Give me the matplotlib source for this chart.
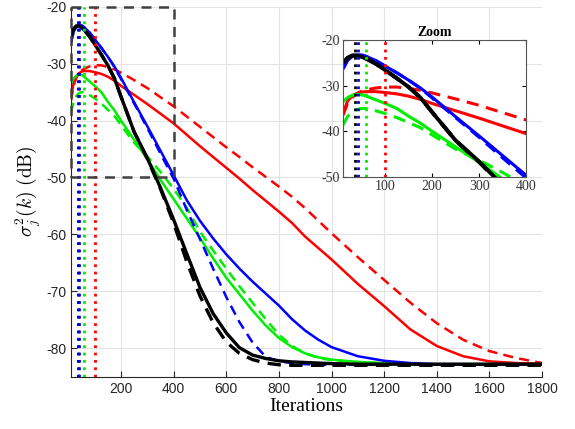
import numpy as np
import matplotlib
matplotlib.use('Agg')
import matplotlib.pyplot as plt

plt.rcParams['axes.unicode_minus'] = False
plt.rcParams['mathtext.fontset'] = 'cm'

# iteration grid shared by every curve
iters = [10, 20, 30, 40, 50, 60, 80, 100, 125, 150, 175, 200, 250, 300, 350,
         400, 450, 500, 550, 600, 650, 700, 750, 800, 850, 900, 950, 1000,
         1100, 1200, 1300, 1400, 1500, 1600, 1700, 1800]

blue_solid = [-26.3, -24.4, -23.6, -23.3, -23.3, -23.6, -24.5, -25.7, -27.2, -28.8,
              -30.5, -32.5, -36.8, -41.0, -45.3, -49.6, -54.0, -57.6, -60.7, -63.5,
              -66.0, -68.3, -70.4, -72.5, -74.9, -76.9, -78.5, -79.8, -81.4, -82.2,
              -82.6, -82.8, -82.8, -82.8, -82.8, -82.8]
blue_dash = [-26.3, -24.4, -23.6, -23.3, -23.3, -23.6, -24.5, -25.7, -27.2, -28.8,
             -30.6, -32.7, -37.0, -41.3, -45.8, -50.2, -55.7, -60.8, -66.0, -71.0,
             -75.4, -79.0, -81.5, -82.3, -82.6, -82.8, -82.9, -82.9, -82.9, -82.9,
             -82.9, -82.9, -82.9, -82.9, -82.9, -82.9]
black_solid = [-25.0, -23.9, -23.4, -23.4, -23.7, -24.1, -25.2, -26.6, -28.4, -30.3,
               -32.6, -35.8, -42.0, -46.6, -51.8, -57.4, -63.4, -69.3, -73.9, -77.3,
               -79.9, -81.2, -81.8, -82.2, -82.4, -82.5, -82.6, -82.7, -82.8, -82.8,
               -82.8, -82.8, -82.8, -82.8, -82.8, -82.8]
black_dash = [-25.0, -23.9, -23.4, -23.4, -23.7, -24.1, -25.2, -26.6, -28.4, -30.3,
              -32.6, -35.8, -42.0, -46.7, -52.0, -58.0, -64.8, -70.8, -75.5, -78.9,
              -80.9, -82.0, -82.6, -82.9, -83.0, -83.0, -83.0, -83.0, -83.0, -83.0,
              -83.0, -83.0, -83.0, -83.0, -83.0, -83.0]
green_solid = [-33.5, -32.6, -32.1, -31.9, -32.0, -32.3, -33.1, -33.9, -35.0, -36.7,
               -38.2, -40.0, -43.4, -46.8, -50.4, -53.8, -57.2, -60.6, -64.2, -67.6,
               -70.5, -73.4, -76.0, -78.2, -79.8, -80.9, -81.6, -82.0, -82.4, -82.6,
               -82.8, -82.8, -82.8, -82.8, -82.8, -82.8]
green_dash = [-38.6, -36.7, -35.7, -35.2, -35.0, -35.0, -35.5, -36.1, -37.0, -38.1,
              -39.2, -40.8, -43.9, -46.3, -49.0, -52.0, -55.3, -59.5, -62.8, -66.0,
              -69.1, -72.0, -74.9, -77.6, -79.6, -80.9, -81.7, -82.1, -82.5, -82.7,
              -82.8, -82.8, -82.8, -82.8, -82.8, -82.8]
red_solid = [-36.1, -33.3, -32.2, -31.7, -31.4, -31.3, -31.3, -31.5, -31.8, -32.3,
             -33.0, -33.9, -35.5, -37.1, -38.8, -40.5, -42.5, -44.5, -46.4, -48.3,
             -50.2, -52.2, -54.1, -56.0, -58.0, -60.4, -62.4, -64.4, -68.7, -72.6,
             -76.7, -79.6, -81.4, -82.3, -82.6, -82.7]
red_dash = [-36.5, -33.8, -32.5, -31.7, -31.2, -30.9, -30.5, -30.3, -30.3, -30.6,
            -31.0, -31.6, -32.9, -34.3, -35.9, -37.5, -39.3, -41.1, -42.9, -44.7,
            -46.4, -48.2, -49.9, -51.6, -53.4, -55.4, -57.6, -59.8, -64.0, -68.0,
            -72.0, -75.6, -78.5, -80.5, -81.7, -82.6]

# convergence markers (iteration index of the peak)
peak_iters = [35, 42, 60, 100]
GREEN = '#00ee00'
peak_colors = ['k', 'b', GREEN, 'r']

x_ticks = [200, 400, 600, 800, 1000, 1200, 1400, 1600, 1800]
y_ticks = [-80, -70, -60, -50, -40, -30, -20]

curves = [
    (red_dash, 'r', '--'), (red_solid, 'r', '-'),
    (green_dash, GREEN, '--'), (green_solid, GREEN, '-'),
    (blue_dash, 'b', '--'), (blue_solid, 'b', '-'),
    (black_dash, 'k', '--'), (black_solid, 'k', '-'),
]


def draw_curves(ax, lw):
    for vals, c, ls in curves:
        w = lw + 0.6 if c == 'k' else lw
        if ls == '--':
            ax.plot(iters, vals, color=c, ls=ls, lw=w, dashes=(4, 2.5))
        else:
            ax.plot(iters, vals, color=c, ls=ls, lw=w)
    for xv, c in zip(peak_iters, peak_colors):
        ax.axvline(xv, color=c, ls=':', lw=2.0)


fig = plt.figure(figsize=(5.75, 4.29), dpi=100)
ax = fig.add_axes([0.1235, 0.1219, 0.8191, 0.8625])
draw_curves(ax, 1.8)
ax.set_xlim(10, 1800)
ax.set_ylim(-85, -20)
ax.set_xticks(x_ticks)
ax.set_yticks(y_ticks)
ax.grid(True, color='#e3e3e3', lw=0.8)
ax.set_axisbelow(True)
for s in ['top', 'right']:
    ax.spines[s].set_visible(False)
ax.spines['left'].set_color('#262626')
ax.spines['bottom'].set_color('#262626')
ax.tick_params(direction='in', length=4, labelsize=10, colors='#262626',
               labelcolor='#262626')
for lab in ax.get_xticklabels() + ax.get_yticklabels():
    lab.set_fontfamily('Liberation Sans')
ax.set_xlabel('Iterations', fontsize=14, family='Liberation Serif', labelpad=2)
ax.set_ylabel(r'$\sigma_j^2(k)\ \mathrm{(dB)}$', fontsize=14, labelpad=2)

# zoom region box
ax.plot([10, 400, 400, 10, 10], [-20, -20, -50, -50, -20], color='#404040',
        ls='--', lw=1.8, dashes=(4, 3), clip_on=False, zorder=5)

ins = fig.add_axes([0.5965, 0.5874, 0.3183, 0.3193])
draw_curves(ins, 2.2)
ins.set_xlim(10, 400)
ins.set_ylim(-50, -20)
ins.set_xticks([100, 200, 300, 400])
ins.set_yticks([-50, -40, -30, -20])
ins.tick_params(direction='in', length=3, labelsize=10, top=True, right=True,
                pad=2)
for lab in ins.get_xticklabels() + ins.get_yticklabels():
    lab.set_fontfamily('Liberation Serif')
    lab.set_color('#333333')
for s in ins.spines.values():
    s.set_color('#555555')
ins.set_title('Zoom', fontsize=10, fontweight='bold', family='Liberation Serif',
              pad=3)

fig.savefig('out.png', dpi=100)
